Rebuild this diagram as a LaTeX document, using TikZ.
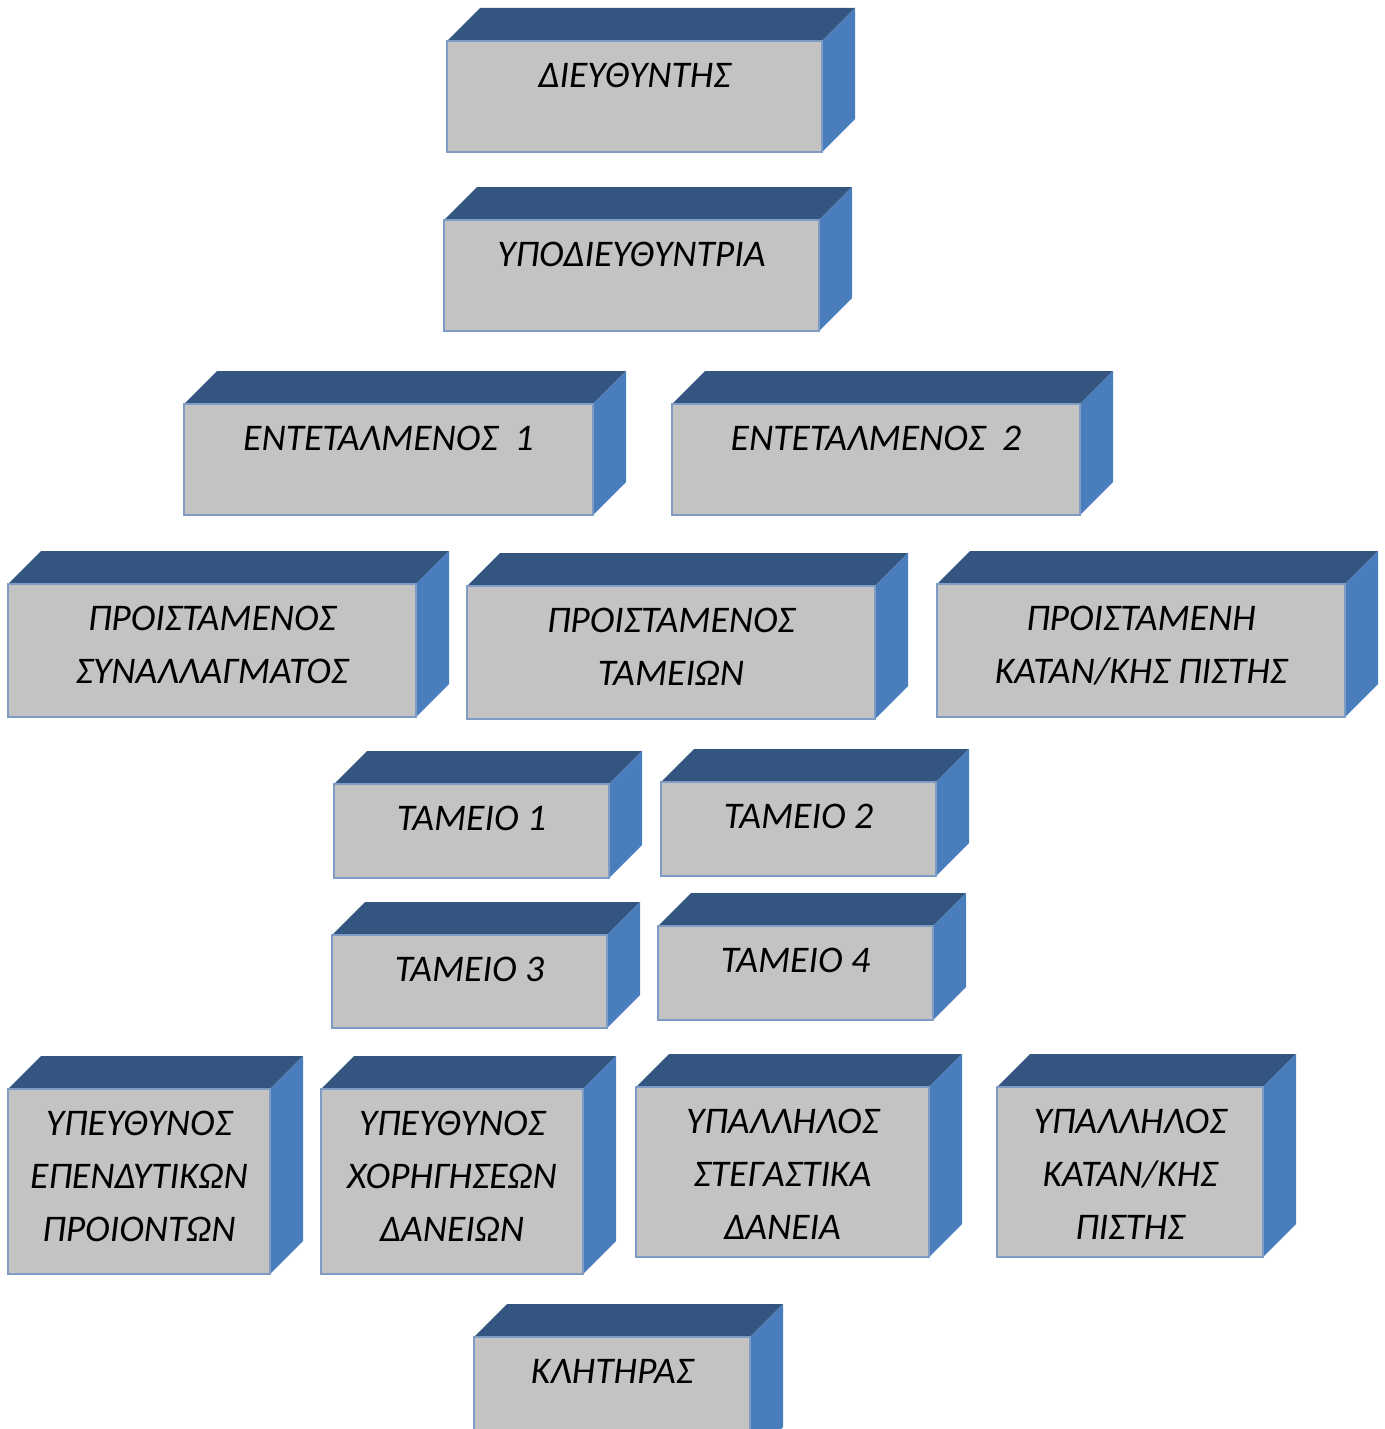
\documentclass[tikz,border=0pt]{standalone}
\usepackage{fontspec}
\setmainfont{Carlito}

\definecolor{facegray}{HTML}{C3C3C3}
\definecolor{topblue}{HTML}{34557F}
\definecolor{sideblue}{HTML}{4A7DBB}
\definecolor{edgeblue}{HTML}{7E9CC4}

\tikzset{
	topface/.style={fill=topblue},
	sideface/.style={fill=sideblue},
	frontface/.style={fill=facegray, draw=edgeblue, line width=1pt},
	blocktext/.style={anchor=north, inner sep=0pt, align=center,
		font=\itshape\fontsize{18.8}{26.5}\selectfont}
}

% one block: name, front face from (#2,#3) to (#4,#5), label
\newcommand{\blkdepth}{33}
\newcommand{\orgblock}[6]{%
	\fill[topface] (#2,#3) -- ++(\blkdepth,-\blkdepth) -- ({#4+\blkdepth},{#3-\blkdepth}) -- (#4,#3) -- cycle;
	\fill[sideface] (#4,#3) -- ({#4+\blkdepth},{#3-\blkdepth}) -- ({#4+\blkdepth},{#5-\blkdepth}) -- (#4,#5) -- cycle;
	\draw[frontface] (#2,#3) rectangle (#4,#5);
	% first baseline sits 46 below the top edge (strut is 37 high)
	\node[blocktext] (#1) at ({(#2+#4)/2},{#3+9}) {\strut #6};
}

\begin{document}
\begin{tikzpicture}[x=0.5pt, y=-0.5pt]
		\clip (0,0) rectangle (1385,1429);
		
		\orgblock{dir}{447}{41}{822}{152}{ΔΙΕΥΘΥΝΤΗΣ}
		\orgblock{subdir}{444}{220}{819}{331}{ΥΠΟΔΙΕΥΘΥΝΤΡΙΑ}
		
		\orgblock{ent1}{184}{404}{593}{515}{ΕΝΤΕΤΑΛΜΕΝΟΣ\ \ 1}
		\orgblock{ent2}{672}{404}{1080}{515}{ΕΝΤΕΤΑΛΜΕΝΟΣ\ \ 2}
		
		\orgblock{prexch}{8}{584}{416}{717}{ΠΡΟΙΣΤΑΜΕΝΟΣ\\ΣΥΝΑΛΛΑΓΜΑΤΟΣ}
		\orgblock{prcash}{467}{586}{875}{719}{ΠΡΟΙΣΤΑΜΕΝΟΣ\\ΤΑΜΕΙΩΝ}
		\orgblock{prcred}{937}{584}{1345}{717}{ΠΡΟΙΣΤΑΜΕΝΗ\\ΚΑΤΑΝ/ΚΗΣ ΠΙΣΤΗΣ}
		
		\orgblock{cash1}{334}{784}{609}{878}{ΤΑΜΕΙΟ 1}
		\orgblock{cash2}{661}{782}{936}{876}{ΤΑΜΕΙΟ 2}
		\orgblock{cash3}{332}{935}{607}{1028}{ΤΑΜΕΙΟ 3}
		\orgblock{cash4}{658}{926}{933}{1020}{ΤΑΜΕΙΟ 4}
		
		\orgblock{invest}{8}{1089}{270}{1274}{ΥΠΕΥΘΥΝΟΣ\\ΕΠΕΝΔΥΤΙΚΩΝ\\ΠΡΟΙΟΝΤΩΝ}
		\orgblock{loans}{321}{1089}{583}{1274}{ΥΠΕΥΘΥΝΟΣ\\ΧΟΡΗΓΗΣΕΩΝ\\ΔΑΝΕΙΩΝ}
		\orgblock{mortg}{636}{1087}{929}{1257}{ΥΠΑΛΛΗΛΟΣ\\ΣΤΕΓΑΣΤΙΚΑ\\ΔΑΝΕΙΑ}
		\orgblock{consum}{997}{1087}{1263}{1257}{ΥΠΑΛΛΗΛΟΣ\\ΚΑΤΑΝ/ΚΗΣ\\ΠΙΣΤΗΣ}
		
		\orgblock{usher}{474}{1337}{750}{1460}{ΚΛΗΤΗΡΑΣ}
		
	\end{tikzpicture}
\end{document}
